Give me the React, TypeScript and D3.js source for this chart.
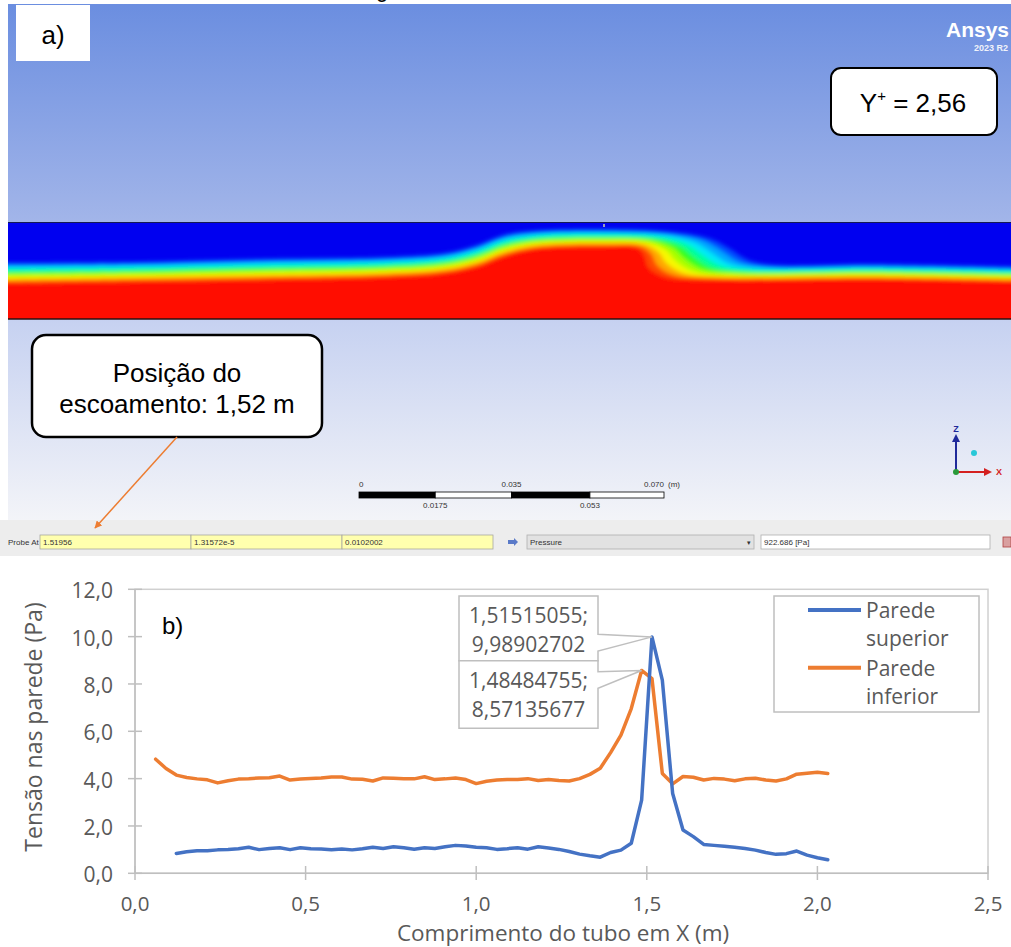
import React from 'react';
import * as d3 from 'd3';

// ---------- dados do gráfico b) ----------
const posX = [
  0.0606, 0.0909, 0.1212, 0.1515, 0.1818, 0.2121, 0.2424, 0.2727, 0.3030, 0.3333,
  0.3636, 0.3939, 0.4242, 0.4545, 0.4848, 0.5152, 0.5455, 0.5758, 0.6061, 0.6364,
  0.6667, 0.6970, 0.7273, 0.7576, 0.7879, 0.8182, 0.8485, 0.8788, 0.9091, 0.9394,
  0.9697, 1.0000, 1.0303, 1.0606, 1.0909, 1.1212, 1.1515, 1.1818, 1.2121, 1.2424,
  1.2727, 1.3030, 1.3333, 1.3636, 1.3939, 1.4242, 1.4545, 1.48484755, 1.51515055, 1.5455,
  1.5758, 1.6061, 1.6364, 1.6667, 1.6970, 1.7273, 1.7576, 1.7879, 1.8182, 1.8485,
  1.8788, 1.9091, 1.9394, 1.9697, 2.0000, 2.0303,
];

const paredeInferior = [
  4.82, 4.43, 4.15, 4.05, 3.99, 3.95, 3.82, 3.91, 3.98, 4.00,
  4.03, 4.04, 4.11, 3.94, 3.98, 4.01, 4.03, 4.07, 4.07, 3.98,
  3.97, 3.90, 4.03, 4.02, 3.99, 3.99, 4.08, 3.96, 3.99, 4.03,
  3.96, 3.79, 3.89, 3.94, 3.96, 3.96, 4.00, 3.92, 3.96, 3.92,
  3.90, 4.00, 4.18, 4.44, 5.10, 5.84, 6.96, 8.57135677, 8.23, 4.22,
  3.78, 4.09, 4.06, 3.94, 4.01, 3.98, 3.91, 3.99, 4.02, 3.94,
  3.90, 3.99, 4.19, 4.23, 4.27, 4.22,
];

// superior começa no 3º ponto de posX
const paredeSuperior = [
  0.84, 0.91, 0.95, 0.95, 0.99, 1.01, 1.04, 1.10, 1.00, 1.05,
  1.08, 1.00, 1.08, 1.04, 1.03, 1.00, 1.03, 0.99, 1.04, 1.10,
  1.05, 1.12, 1.08, 1.02, 1.08, 1.05, 1.12, 1.18, 1.15, 1.10,
  1.08, 1.01, 1.04, 1.08, 1.02, 1.12, 1.07, 1.01, 0.92, 0.81,
  0.74, 0.68, 0.88, 0.98, 1.27, 3.09, 9.98902702, 8.16, 3.37, 1.83,
  1.55, 1.22, 1.18, 1.14, 1.10, 1.05, 0.98, 0.88, 0.80, 0.83,
  0.94, 0.77, 0.66, 0.57,
];

const xTicks = [0, 0.5, 1.0, 1.5, 2.0, 2.5];
const yTicks = [0, 2, 4, 6, 8, 10, 12];
const seriesNames = ['Parede superior', 'Parede inferior'];
const seriesColors = ['#4472c4', '#ed7d31'];
const peakLabels = [
  { x: 1.51515055, y: 9.98902702, lines: ['1,51515055;', '9,98902702'] },
  { x: 1.48484755, y: 8.57135677, lines: ['1,48484755;', '8,57135677'] },
];

// ---------- dados da imagem a) (fração do comprimento / altura do tubo) ----------
const bandTopU = [0, 0.121, 0.249, 0.378, 0.436, 0.468, 0.494, 0.525, 0.596, 0.660, 0.699, 0.719, 0.738, 0.764, 0.859, 1.0];
const bandTopV = [0.42, 0.412, 0.381, 0.361, 0.320, 0.237, 0.134, 0.090, 0.075, 0.100, 0.168, 0.271, 0.392, 0.443, 0.436, 0.461];
const bandBotU = [0, 0.121, 0.249, 0.378, 0.436, 0.468, 0.494, 0.525, 0.596, 0.628, 0.635, 0.638, 0.654, 0.699, 0.859, 1.0];
const bandBotV = [0.632, 0.615, 0.598, 0.570, 0.529, 0.461, 0.358, 0.281, 0.255, 0.271, 0.358, 0.461, 0.564, 0.598, 0.591, 0.615];
const jetColors = ['#0050ff', '#00a8ff', '#00eaf5', '#00ff9a', '#30ff20', '#a8ff00', '#f8f800', '#ffa800', '#ff4800', '#ff0800'];

const scaleBarTicks = [0, 0.0175, 0.035, 0.053, 0.070];
const scaleBarLabels = ['0', '0.0175', '0.035', '0.053', '0.070'];
const probeFields = ['1.51956', '1.31572e-5', '0.0102002'];

const W = 1011;
const H = 947;
const chartFont = '"Open Sans", "Noto Sans", sans-serif';
const cfdFont = '"Liberation Sans", Arial, sans-serif';
const textGray = '#595959';

const App = () => {
  // chart scales
  const x = d3.scaleLinear().domain([0, 2.5]).range([135, 988]);
  const y = d3.scaleLinear().domain([0, 12]).range([873.3, 589.3]);

  const line = d3.line<[number, number]>().x(d => x(d[0])).y(d => y(d[1]));
  const supPts: [number, number][] = paredeSuperior.map((v, i) => [posX[i + 2], v]);
  const infPts: [number, number][] = paredeInferior.map((v, i) => [posX[i], v]);

  // pipe scales
  const pu = d3.scaleLinear().domain([0, 1]).range([8, 1011]);
  const pv = d3.scaleLinear().domain([0, 1]).range([222, 319]);
  const curve = d3.line<[number, number]>()
    .x(d => pu(d[0])).y(d => pv(d[1]))
    .curve(d3.curveCatmullRom.alpha(0.5));
  const bands = jetColors.map((c, i) => {
    const t = i / (jetColors.length - 1);
    const pts: [number, number][] = bandTopU.map((u, j) => [
      u + (bandBotU[j] - u) * t,
      bandTopV[j] + (bandBotV[j] - bandTopV[j]) * t,
    ]);
    const d = curve(pts) + `L${pu(1) + 20},${pv(pts[pts.length - 1][1])}L${pu(1) + 20},${pv(1.2)}L${pu(0) - 20},${pv(1.2)}L${pu(0) - 20},${pv(pts[0][1])}Z`;
    return { c, d };
  });

  const sb = d3.scaleLinear().domain([0, 0.07]).range([359, 664]);

  return (
    <div style={{ position: 'absolute', left: 0, top: 0 }}>
      <svg width={W} height={H} viewBox={`0 0 ${W} ${H}`} style={{ display: 'block' }}>
        <defs>
          <linearGradient id="bg" x1="0" y1="0" x2="0" y2="1">
            <stop offset="0" stopColor="#6b8ee0" />
            <stop offset="0.42" stopColor="#a2b5e9" />
            <stop offset="0.62" stopColor="#c7d2f1" />
            <stop offset="1" stopColor="#f3f4f8" />
          </linearGradient>
          <clipPath id="pipe">
            <rect x={8} y={222} width={1003} height={97} />
          </clipPath>
          <filter id="blur" x="-5%" y="-20%" width="110%" height="140%">
            <feGaussianBlur stdDeviation="2" />
          </filter>
          <marker id="arrow" viewBox="0 0 10 10" refX="9" refY="5" markerWidth="5" markerHeight="5" orient="auto">
            <path d="M0,0L10,5L0,10Z" fill="#ed7d31" />
          </marker>
        </defs>

        <rect x={0} y={0} width={W} height={H} fill="#fff" />

        {/* ---------- a) ---------- */}
        <rect x={8} y={4} width={1003} height={516} fill="url(#bg)" />
        <text x={376} y={-3} fontFamily={cfdFont} fontSize={22}>g</text>

        <g clipPath="url(#pipe)">
          <rect x={8} y={222} width={1003} height={97} fill="#0000f0" />
          <g filter="url(#blur)">
            {bands.map((b, i) => <path key={i} d={b.d} fill={b.c} />)}
          </g>
        </g>
        <line x1={8} x2={1011} y1={222.5} y2={222.5} stroke="#141a55" strokeWidth={1.2} />
        <line x1={8} x2={1011} y1={319} y2={319} stroke="#2a1010" strokeWidth={1.4} />
        <rect x={603} y={224} width={2} height={3} fill="#9aa0b8" />

        <rect x={16} y={5} width={74} height={56} fill="#fff" />
        <text x={53} y={44} textAnchor="middle" fontFamily={cfdFont} fontSize={26}>a)</text>

        <text x={1009} y={37} textAnchor="end" fontFamily={cfdFont} fontSize={21} fontWeight="bold" fill="#fff">Ansys</text>
        <text x={1008} y={51} textAnchor="end" fontFamily={cfdFont} fontSize={9} fontWeight="bold" fill="#f0f2fa">2023 R2</text>

        <rect x={831} y={68} width={166} height={67} rx={10} fill="#fff" stroke="#000" strokeWidth={2} />
        <text x={913} y={112} textAnchor="middle" fontFamily={cfdFont} fontSize={26}>
          Y<tspan fontSize={15} dy={-11}>+</tspan><tspan dy={11}> = 2,56</tspan>
        </text>

        <rect x={32} y={335} width={290} height={102} rx={14} fill="#fff" stroke="#000" strokeWidth={2.5} />
        <text x={177} y={382} textAnchor="middle" fontFamily={cfdFont} fontSize={26}>Posição do</text>
        <text x={177} y={413} textAnchor="middle" fontFamily={cfdFont} fontSize={26}>escoamento: 1,52 m</text>

        {/* scale bar */}
        {scaleBarTicks.slice(0, 4).map((v, i) => (
          <rect key={i} x={sb(v)} y={492} width={sb(scaleBarTicks[i + 1]) - sb(v)} height={6}
            fill={i % 2 === 0 ? '#000' : '#fff'} stroke="#000" strokeWidth={0.8} />
        ))}
        {scaleBarTicks.map((v, i) => (
          <text key={i} x={sb(v)} y={i % 2 === 0 ? 487 : 508} textAnchor={i === 0 ? 'start' : i === 4 ? 'end' : 'middle'}
            fontFamily={cfdFont} fontSize={8} fill="#333">{scaleBarLabels[i]}</text>
        ))}
        <text x={668} y={487} fontFamily={cfdFont} fontSize={8} fill="#333">(m)</text>

        {/* axis triad */}
        <line x1={956} y1={472} x2={956} y2={440} stroke="#1f2a9a" strokeWidth={2} />
        <path d="M952,442L956,434L960,442Z" fill="#1f2a9a" />
        <text x={956} y={432} textAnchor="middle" fontFamily={cfdFont} fontSize={9} fontWeight="bold" fill="#1f2a9a">Z</text>
        <line x1={956} y1={472} x2={986} y2={472} stroke="#d42020" strokeWidth={2} />
        <path d="M984,468L992,472L984,476Z" fill="#d42020" />
        <text x={996} y={475} fontFamily={cfdFont} fontSize={9} fontWeight="bold" fill="#d42020">X</text>
        <circle cx={956} cy={472} r={3} fill="#2a9a3a" />
        <circle cx={974} cy={453} r={3} fill="#28c8d8" />

        {/* probe toolbar */}
        <rect x={0} y={520} width={W} height={36} fill="#ededed" />
        <text x={8} y={545} fontFamily={cfdFont} fontSize={8} fill="#333">Probe At</text>
        {probeFields.map((t, i) => (
          <g key={i}>
            <rect x={40 + i * 151} y={535} width={151} height={14} fill="#ffffae" stroke="#a8a8a0" strokeWidth={0.8} />
            <text x={43 + i * 151} y={545} fontFamily={cfdFont} fontSize={8} fill="#333">{t}</text>
          </g>
        ))}
        <path d="M508,540h6v-2l4,4l-4,4v-2h-6Z" fill="#5a7ac8" />
        <rect x={527} y={535} width={227} height={14} fill="#e2e2e2" stroke="#b0b0b0" strokeWidth={0.8} />
        <text x={530} y={545} fontFamily={cfdFont} fontSize={8} fill="#333">Pressure</text>
        <text x={747} y={545} fontFamily={cfdFont} fontSize={7} fill="#333">▾</text>
        <rect x={761} y={535} width={229} height={14} fill="#fff" stroke="#b0b0b0" strokeWidth={0.8} />
        <text x={764} y={545} fontFamily={cfdFont} fontSize={8} fill="#333">922.686 [Pa]</text>
        <rect x={1003} y={537} width={8} height={10} fill="#d9a0a0" stroke="#b04040" strokeWidth={0.8} />

        <line x1={177} y1={437} x2={95} y2={528} stroke="#ed7d31" strokeWidth={1.5} markerEnd="url(#arrow)" />

        {/* ---------- b) ---------- */}
        <rect x={135} y={589.3} width={853} height={284} fill="none" stroke="#d0d0d0" strokeWidth={1.5} />
        <line x1={135} x2={135} y1={589.3} y2={873.3} stroke="#bfbfbf" strokeWidth={1.5} />
        <line x1={135} x2={988} y1={873.3} y2={873.3} stroke="#bfbfbf" strokeWidth={1.5} />
        {yTicks.map(t => (
          <g key={t}>
            <line x1={128} x2={142} y1={y(t)} y2={y(t)} stroke="#bfbfbf" strokeWidth={1.5} />
            <text x={113} y={y(t) + 9} textAnchor="end" fontFamily={chartFont} fontSize={21} fill={textGray}>
              {d3.format('.1f')(t).replace('.', ',')}
            </text>
          </g>
        ))}
        {xTicks.map(t => (
          <g key={t}>
            <line x1={x(t)} x2={x(t)} y1={866} y2={880} stroke="#bfbfbf" strokeWidth={1.5} />
            <text x={x(t)} y={911} textAnchor="middle" fontFamily={chartFont} fontSize={20.5} fill={textGray}>
              {d3.format('.1f')(t).replace('.', ',')}
            </text>
          </g>
        ))}
        <text x={563} y={941} textAnchor="middle" fontFamily={chartFont} fontSize={22.5} fill={textGray}>
          Comprimento do tubo em X (m)
        </text>
        <text transform="translate(41.5,727) rotate(-90)" textAnchor="middle" fontFamily={chartFont} fontSize={23} fill={textGray}>
          Tensão nas parede (Pa)
        </text>
        <text x={162} y={634} fontFamily={cfdFont} fontSize={24} fill="#000">b)</text>

        <path d={line(infPts) || ''} fill="none" stroke={seriesColors[1]} strokeWidth={3.5} strokeLinejoin="round" strokeLinecap="round" />
        <path d={line(supPts) || ''} fill="none" stroke={seriesColors[0]} strokeWidth={3.5} strokeLinejoin="round" strokeLinecap="round" />

        {/* data labels */}
        {peakLabels.map((p, i) => {
          const top = i === 0 ? 596 : 660.7;
          const bot = i === 0 ? 660.7 : 728.3;
          const a = i === 0 ? 634.3 : 671.7;
          const b = i === 0 ? 651 : 688.3;
          const d = `M459,${top}H598V${a}L${x(p.x)},${y(p.y)}L598,${b}V${bot}H459Z`;
          return (
            <g key={i}>
              <path d={d} fill="#fff" stroke="#bfbfbf" strokeWidth={1.5} strokeLinejoin="miter" />
              {p.lines.map((l, j) => (
                <text key={j} x={528.5} y={(i === 0 ? 623 : 688) + j * 29} textAnchor="middle"
                  fontFamily={chartFont} fontSize={21} fill={textGray}>{l}</text>
              ))}
            </g>
          );
        })}

        {/* legend */}
        <rect x={774} y={596} width={205} height={116} fill="#fff" stroke="#bfbfbf" strokeWidth={1.5} />
        {seriesNames.map((n, i) => {
          const ly = 610 + i * 57.7;
          const words = n.split(' ');
          return (
            <g key={n}>
              <line x1={808} x2={861} y1={ly} y2={ly} stroke={seriesColors[i]} strokeWidth={4} />
              <text x={866} y={ly + 8} fontFamily={chartFont} fontSize={21} fill={textGray}>{words[0]}</text>
              <text x={866} y={ly + 36} fontFamily={chartFont} fontSize={21} fill={textGray}>{words[1]}</text>
            </g>
          );
        })}
      </svg>
    </div>
  );
};

export default App;
